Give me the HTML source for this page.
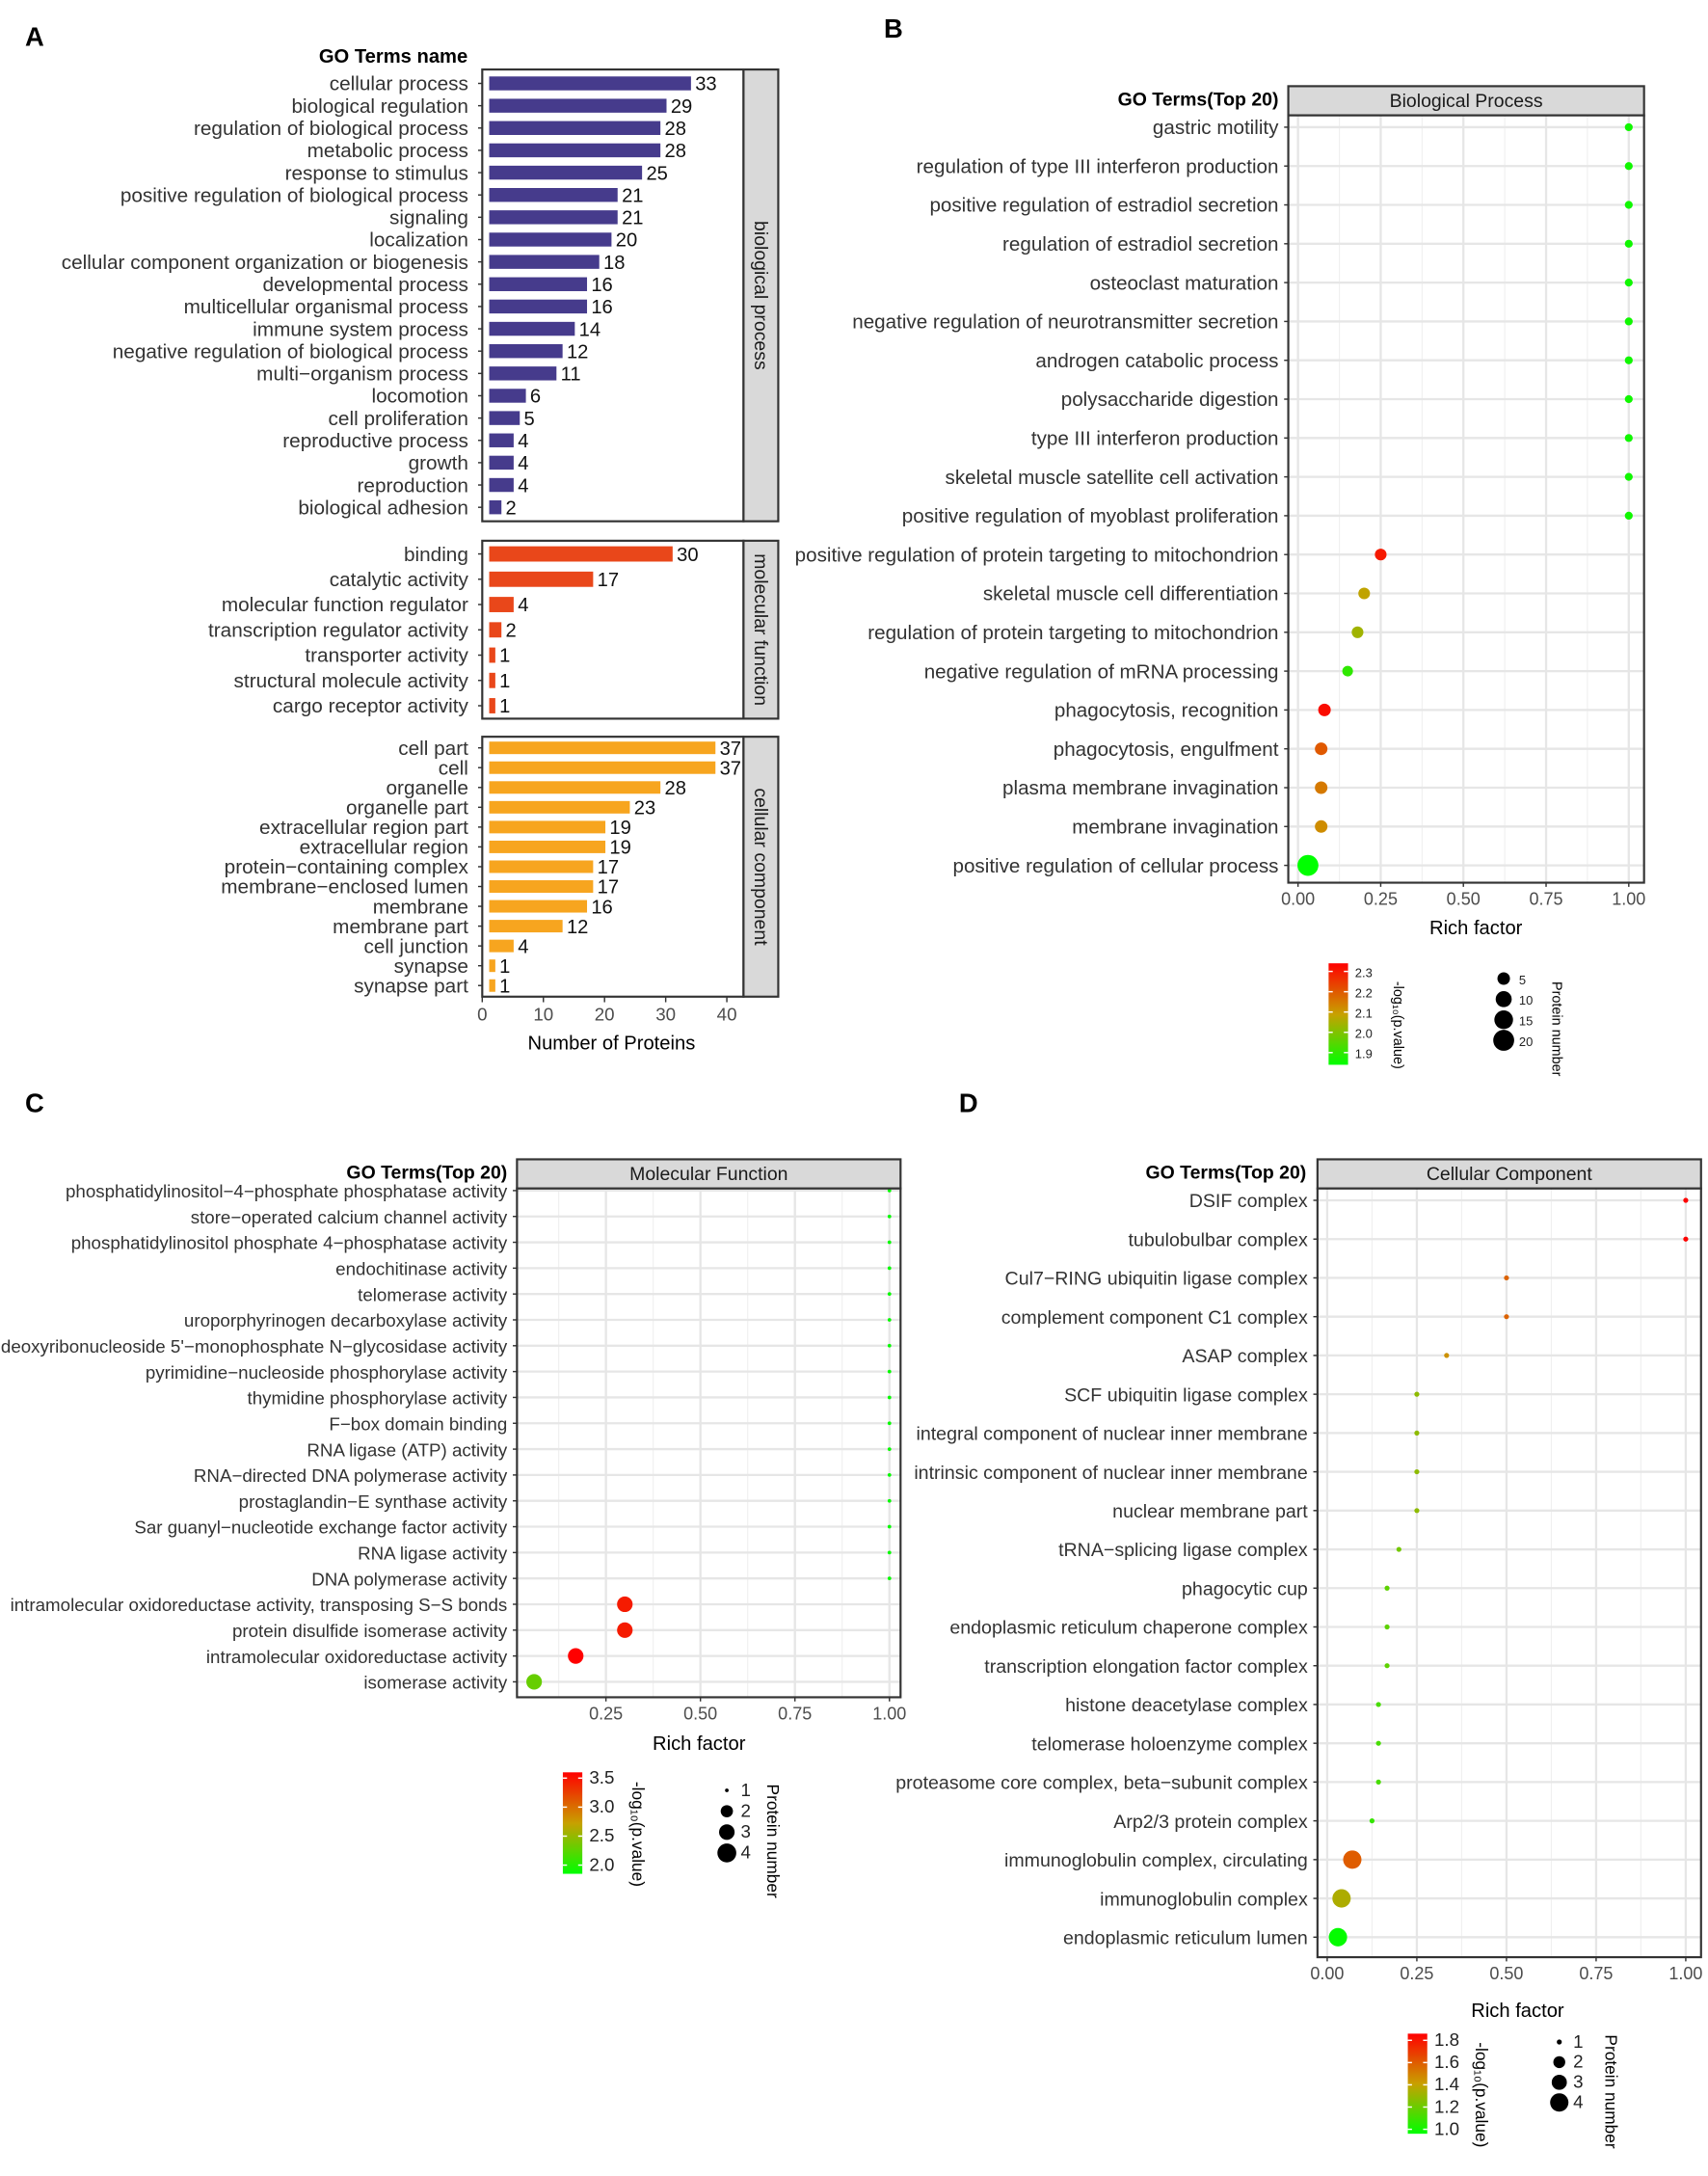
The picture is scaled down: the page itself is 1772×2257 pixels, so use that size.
<!DOCTYPE html>
<html><head><meta charset="utf-8">
<style>
html,body{margin:0;padding:0;background:#fff;}
svg{display:block;font-family:"Liberation Sans",Arial,sans-serif;}
</style></head>
<body>
<svg id="fig" width="1772" height="2257" viewBox="0 0 1229 1565.4" xmlns="http://www.w3.org/2000/svg"></svg>
<script>
// ---------- Panel A data ----------
const bpTerms=["cellular process","biological regulation","regulation of biological process","metabolic process","response to stimulus","positive regulation of biological process","signaling","localization","cellular component organization or biogenesis","developmental process","multicellular organismal process","immune system process","negative regulation of biological process","multi\u2212organism process","locomotion","cell proliferation","reproductive process","growth","reproduction","biological adhesion"];
const bpCounts=[33,29,28,28,25,21,21,20,18,16,16,14,12,11,6,5,4,4,4,2];
const mfTerms=["binding","catalytic activity","molecular function regulator","transcription regulator activity","transporter activity","structural molecule activity","cargo receptor activity"];
const mfCounts=[30,17,4,2,1,1,1];
const ccTerms=["cell part","cell","organelle","organelle part","extracellular region part","extracellular region","protein\u2212containing complex","membrane\u2212enclosed lumen","membrane","membrane part","cell junction","synapse","synapse part"];
const ccCounts=[37,37,28,23,19,19,17,17,16,12,4,1,1];
const aTicks=[0,10,20,30,40];

// ---------- Panel B data ----------
const bTerms=["gastric motility","regulation of type III interferon production","positive regulation of estradiol secretion","regulation of estradiol secretion","osteoclast maturation","negative regulation of neurotransmitter secretion","androgen catabolic process","polysaccharide digestion","type III interferon production","skeletal muscle satellite cell activation","positive regulation of myoblast proliferation","positive regulation of protein targeting to mitochondrion","skeletal muscle cell differentiation","regulation of protein targeting to mitochondrion","negative regulation of mRNA processing","phagocytosis, recognition","phagocytosis, engulfment","plasma membrane invagination","membrane invagination","positive regulation of cellular process"];
const bRich=[1,1,1,1,1,1,1,1,1,1,1,0.25,0.2,0.18,0.15,0.08,0.07,0.07,0.07,0.03];
const bLogP=[1.86,1.86,1.86,1.86,1.86,1.86,1.86,1.86,1.86,1.86,1.86,2.3,2.08,2.04,1.9,2.32,2.2,2.15,2.12,1.84];
const bCount=[1,1,1,1,1,1,1,1,1,1,1,4,4,4,3,5,5,5,5,20];
const bTicks=[0,0.25,0.5,0.75,1];
const bColorTicks=[1.9,2.0,2.1,2.2,2.3];
const bSizeTicks=[5,10,15,20];

// ---------- Panel C data ----------
const cTerms=["phosphatidylinositol\u22124\u2212phosphate phosphatase activity","store\u2212operated calcium channel activity","phosphatidylinositol phosphate 4\u2212phosphatase activity","endochitinase activity","telomerase activity","uroporphyrinogen decarboxylase activity","deoxyribonucleoside 5'\u2212monophosphate N\u2212glycosidase activity","pyrimidine\u2212nucleoside phosphorylase activity","thymidine phosphorylase activity","F\u2212box domain binding","RNA ligase (ATP) activity","RNA\u2212directed DNA polymerase activity","prostaglandin\u2212E synthase activity","Sar guanyl\u2212nucleotide exchange factor activity","RNA ligase activity","DNA polymerase activity","intramolecular oxidoreductase activity, transposing S\u2212S bonds","protein disulfide isomerase activity","intramolecular oxidoreductase activity","isomerase activity"];
const cRich=[1,1,1,1,1,1,1,1,1,1,1,1,1,1,1,1,0.3,0.3,0.17,0.06];
const cLogP=[1.88,1.88,1.88,1.88,1.88,1.88,1.88,1.88,1.88,1.88,1.88,1.88,1.88,1.88,1.88,1.88,3.45,3.45,3.6,2.3];
const cCount=[1,1,1,1,1,1,1,1,1,1,1,1,1,1,1,1,3,3,3,3];
const cTicks=[0.25,0.5,0.75,1];
const cColorTicks=[2.0,2.5,3.0,3.5];
const cSizeTicks=[1,2,3,4];

// ---------- Panel D data ----------
const dTerms=["DSIF complex","tubulobulbar complex","Cul7\u2212RING ubiquitin ligase complex","complement component C1 complex","ASAP complex","SCF ubiquitin ligase complex","integral component of nuclear inner membrane","intrinsic component of nuclear inner membrane","nuclear membrane part","tRNA\u2212splicing ligase complex","phagocytic cup","endoplasmic reticulum chaperone complex","transcription elongation factor complex","histone deacetylase complex","telomerase holoenzyme complex","proteasome core complex, beta\u2212subunit complex","Arp2/3 protein complex","immunoglobulin complex, circulating","immunoglobulin complex","endoplasmic reticulum lumen"];
const dRich=[1,1,0.5,0.5,0.333,0.25,0.25,0.25,0.25,0.2,0.167,0.167,0.167,0.143,0.143,0.143,0.125,0.07,0.04,0.03];
const dLogP=[1.85,1.85,1.58,1.58,1.45,1.28,1.28,1.28,1.28,1.22,1.17,1.17,1.17,1.12,1.12,1.12,1.08,1.6,1.35,0.97];
const dCount=[1,1,1,1,1,1,1,1,1,1,1,1,1,1,1,1,1,4,4,4];
const dTicks=[0,0.25,0.5,0.75,1];
const dColorTicks=[1.0,1.2,1.4,1.6,1.8];
const dSizeTicks=[1,2,3,4];

const NS="http://www.w3.org/2000/svg";
const svg=document.getElementById('fig');
function mk(tag,name,attrs,parent,txt){
  const el=document.createElementNS(NS,tag);
  
  
  for(const k in attrs) el.setAttribute(k,attrs[k]);
  if(txt!==undefined) el.textContent=txt;
  (parent||svg).appendChild(el);
  return el;
}
function lerp(a,b,t){return a+(b-a)*t;}
function gradColor(t){
  t=Math.max(0,Math.min(1,t));
  const g=[0,255,0],m=[200,160,0],r=[255,0,0];
  let c;
  if(t<0.5){const u=t/0.5;c=[lerp(g[0],m[0],u),lerp(g[1],m[1],u),0];}
  else{const u=(t-0.5)/0.5;c=[lerp(m[0],r[0],u),lerp(m[1],r[1],u),0];}
  return `rgb(${c[0]|0},${c[1]|0},${c[2]|0})`;
}

// ---------- Panel letters ----------
[["A",18,33],["B",636,27],["C",18,800],["D",690,800]].forEach(p=>{
  mk('text','panel-label-'+p[0].toLowerCase(),{x:p[1],y:p[2],'font-size':19,'font-weight':'bold'},svg,p[0]);
});

// ---------- Panel A ----------
const aX0=352, aPx=4.4;
function ax(v){return aX0+v*aPx;}
mk('text','a-y-axis-title',{x:283,y:45,'font-size':14,'font-weight':'bold','text-anchor':'middle'},svg,'GO Terms name');
function barPanel(terms,counts,color,boxTop,boxBot,firstY,step,barH,strip,key){
  const g=mk('g','a-facet-'+key,{});
  mk('rect','a-facet-frame-'+key,{x:347,y:boxTop,width:188,height:boxBot-boxTop,fill:'#fff',stroke:'#333','stroke-width':1.5},g);
  mk('rect','a-facet-strip-'+key,{x:535,y:boxTop,width:25,height:boxBot-boxTop,fill:'#d9d9d9',stroke:'#333','stroke-width':1.5},g);
  const sy=(boxTop+boxBot)/2;
  mk('text','a-strip-label-'+key,{x:543,y:sy,'font-size':13.5,'text-anchor':'middle',transform:`rotate(90 543 ${sy})`,fill:'#1a1a1a'},g,strip);
  terms.forEach((t,i)=>{
    const y=firstY+i*step;
    mk('text','a-term-label',{x:337,y:y+5,'font-size':14.4,'text-anchor':'end',fill:'#333'},g,t);
    mk('line','a-y-tick',{x1:344,x2:347,y1:y,y2:y,stroke:'#333','stroke-width':1},g);
    mk('rect','a-bar',{x:ax(0),y:y-barH/2,width:ax(counts[i])-ax(0),height:barH,fill:color},g);
    mk('text','a-bar-value',{x:ax(counts[i])+3,y:y+5,'font-size':14,fill:'#111'},g,counts[i]);
  });
}
barPanel(bpTerms,bpCounts,'#463b8c',50,375,60,16.05,10,'biological process','bp');
barPanel(mfTerms,mfCounts,'#e9471a',389,517,398.5,18.2,11,'molecular function','mf');
barPanel(ccTerms,ccCounts,'#f7a51f',530,717,538,14.25,9,'cellular component','cc');
aTicks.forEach(v=>{
  mk('line','a-x-tick',{x1:ax(v)-5,x2:ax(v)-5,y1:717,y2:721,stroke:'#333'});
  mk('text','a-x-tick-label',{x:ax(v)-5,y:734,'font-size':13,'text-anchor':'middle',fill:'#4d4d4d'},svg,v);
});
mk('text','a-x-axis-title',{x:440,y:755,'font-size':14,'text-anchor':'middle'},svg,'Number of Proteins');

// ---------- Dot plot helper ----------
function dotPlot(o){
  const g=mk('g',o.key+'-dot-plot',{});
  const xs=v=>o.xa+v*o.xb;
  mk('text',o.key+'-y-axis-title',{x:o.hx,y:o.top-7,'font-size':13.5,'font-weight':'bold','text-anchor':'end'},g,'GO Terms(Top 20)');
  mk('rect',o.key+'-strip',{x:o.bx0,y:o.top-21,width:o.bx1-o.bx0,height:21,fill:'#d9d9d9',stroke:'#333','stroke-width':1.5},g);
  mk('text',o.key+'-strip-label',{x:(o.bx0+o.bx1)/2,y:o.top-6,'font-size':13.5,'text-anchor':'middle',fill:'#1a1a1a'},g,o.strip);
  mk('rect',o.key+'-panel-bg',{x:o.bx0,y:o.top,width:o.bx1-o.bx0,height:o.bot-o.top,fill:'#fff'},g);
  for(let i=0;i<o.ticks.length;i++){
    const v=o.ticks[i]-0.125;
    if(xs(v)>o.bx0) mk('line',o.key+'-grid-minor',{x1:xs(v),x2:xs(v),y1:o.top,y2:o.bot,stroke:'#f0f0f0','stroke-width':0.8},g);
  }
  o.ticks.forEach(v=>mk('line',o.key+'-grid-major',{x1:xs(v),x2:xs(v),y1:o.top,y2:o.bot,stroke:'#e6e6e6','stroke-width':1.6},g));
  o.terms.forEach((t,i)=>{
    const y=o.fy+i*o.step;
    mk('line',o.key+'-grid-row',{x1:o.bx0,x2:o.bx1,y1:y,y2:y,stroke:'#e6e6e6','stroke-width':1.6},g);
    mk('text',o.key+'-term-label',{x:o.bx0-7,y:y+5,'font-size':o.fs,'text-anchor':'end',fill:'#333'},g,t);
    mk('line',o.key+'-y-tick',{x1:o.bx0-3,x2:o.bx0,y1:y,y2:y,stroke:'#333'},g);
  });
  o.terms.forEach((t,i)=>{
    const y=o.fy+i*o.step;
    const tc=(o.logp[i]-o.cmin)/(o.cmax-o.cmin);
    mk('circle',o.key+'-dot',{cx:xs(o.rich[i]),cy:y,r:o.rfn(o.count[i]),fill:gradColor(tc)},g);
  });
  mk('rect',o.key+'-panel-border',{x:o.bx0,y:o.top,width:o.bx1-o.bx0,height:o.bot-o.top,fill:'none',stroke:'#333','stroke-width':1.5},g);
  o.ticks.forEach(v=>{
    mk('line',o.key+'-x-tick',{x1:xs(v),x2:xs(v),y1:o.bot,y2:o.bot+3,stroke:'#333'},g);
    mk('text',o.key+'-x-tick-label',{x:xs(v),y:o.bot+16,'font-size':12.5,'text-anchor':'middle',fill:'#4d4d4d'},g,v.toFixed(2));
  });
  mk('text',o.key+'-x-axis-title',{x:o.rfx,y:o.rfy,'font-size':14,'text-anchor':'middle'},g,'Rich factor');
  const L=o.leg;
  const gid=o.key+'grad';
  const defs=mk('defs',o.key+'-defs',{},g);
  const lg=mk('linearGradient',o.key+'-gradient',{id:gid,x1:0,y1:1,x2:0,y2:0},defs);
  for(let k=0;k<=10;k++) mk('stop',o.key+'-gradient-stop',{offset:k/10,'stop-color':gradColor(k/10)},lg);
  mk('rect',o.key+'-colorbar',{x:L.cx,y:L.cy0,width:14,height:L.cy1-L.cy0,fill:`url(#${gid})`},g);
  const cy=v=>L.cy1-(v-o.cmin)/(o.cmax-o.cmin)*(L.cy1-L.cy0);
  o.cticks.forEach(v=>{
    mk('line',o.key+'-colorbar-tick',{x1:L.cx,x2:L.cx+3,y1:cy(v),y2:cy(v),stroke:'#fff'},g);
    mk('line',o.key+'-colorbar-tick',{x1:L.cx+11,x2:L.cx+14,y1:cy(v),y2:cy(v),stroke:'#fff'},g);
    mk('text',o.key+'-colorbar-label',{x:L.cx+19,y:cy(v)+4,'font-size':L.lfs,fill:'#222'},g,v.toFixed(1));
  });
  const tcy=(L.cy0+L.cy1)/2+8;
  mk('text',o.key+'-colorbar-title',{x:L.tx,y:tcy,'font-size':L.tfs,'text-anchor':'middle',transform:`rotate(90 ${L.tx} ${tcy})`},g,'-log\u2081\u2080(p.value)');
  o.sticks.forEach((v,k)=>{
    const y=L.sy0+k*L.sstep;
    mk('circle',o.key+'-size-legend-dot',{cx:L.sx,cy:y,r:o.rfn(v),fill:'#000'},g);
    mk('text',o.key+'-size-legend-label',{x:L.sx+L.lo,y:y+4,'font-size':L.lfs,fill:'#222'},g,v);
  });
  const sty=L.sy0+1.5*L.sstep+14;
  mk('text',o.key+'-size-legend-title',{x:L.stx,y:sty,'font-size':L.tfs,'text-anchor':'middle',transform:`rotate(90 ${L.stx} ${sty})`},g,'Protein number');
}

dotPlot({key:'b',terms:bTerms,rich:bRich,logp:bLogP,count:bCount,ticks:bTicks,cticks:bColorTicks,sticks:bSizeTicks,
  xa:934,xb:238,bx0:927,bx1:1183,top:83,bot:635,fy:91.5,step:27.95,fs:14.3,hx:920,strip:'Biological Process',
  cmin:1.84,cmax:2.34,rfn:n=>1.5+1.35*Math.sqrt(n),rfx:1062,rfy:672,
  leg:{cx:956,cy0:693,cy1:766,tx:1003,tfs:10,lfs:9,sx:1082,sy0:704,sstep:14.8,lo:11,stx:1117}});

dotPlot({key:'c',terms:cTerms,rich:cRich,logp:cLogP,count:cCount,ticks:cTicks,cticks:cColorTicks,sticks:cSizeTicks,
  xa:368,xb:272,bx0:372,bx1:648,top:855,bot:1221,fy:856.5,step:18.6,fs:13,hx:365,strip:'Molecular Function',
  cmin:1.85,cmax:3.6,rfn:n=>n===1?1.3:2+1.2*n,rfx:503,rfy:1259,
  leg:{cx:405,cy0:1275,cy1:1348,tx:455,tfs:12,lfs:13,sx:523,sy0:1288,sstep:15,lo:10,stx:552}});

dotPlot({key:'d',terms:dTerms,rich:dRich,logp:dLogP,count:dCount,ticks:dTicks,cticks:dColorTicks,sticks:dSizeTicks,
  xa:955,xb:258,bx0:948,bx1:1224,top:855,bot:1408,fy:863.5,step:27.9,fs:13.6,hx:940,strip:'Cellular Component',
  cmin:0.96,cmax:1.86,rfn:n=>n===1?1.8:2+1.15*n,rfx:1092,rfy:1451,
  leg:{cx:1013,cy0:1463,cy1:1535,tx:1062,tfs:12,lfs:13,sx:1122,sy0:1469,sstep:14.5,lo:10,stx:1155}});
</script>
</body></html>
